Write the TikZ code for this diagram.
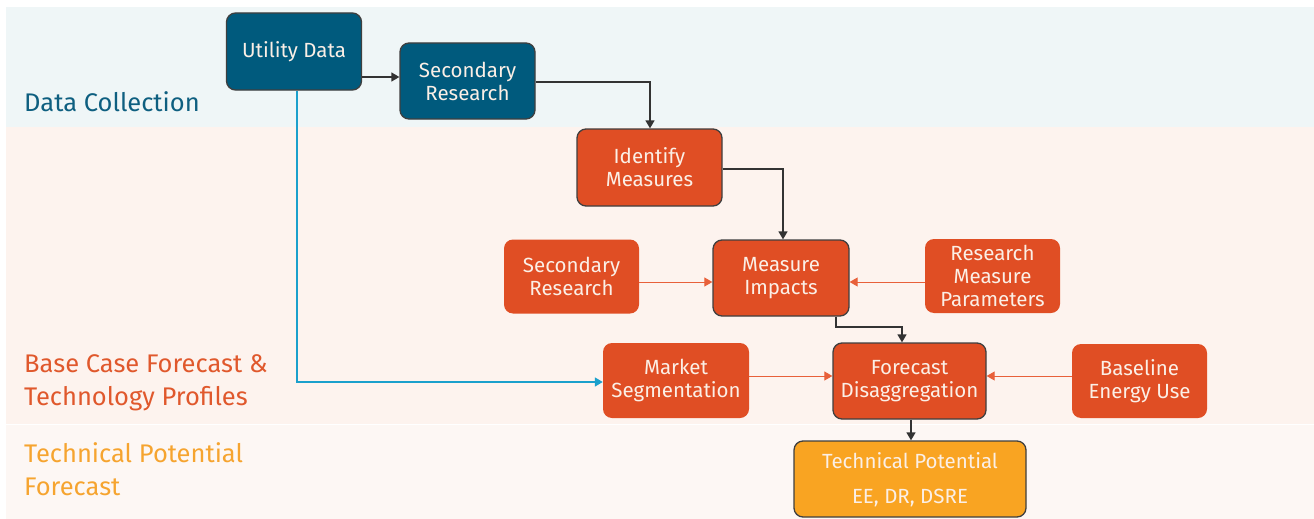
\documentclass[tikz,border=0pt]{standalone}
\usepackage{fontspec}
\setmainfont{Fira Sans}[Scale=1]
\usetikzlibrary{arrows.meta,positioning}
\definecolor{bandA}{HTML}{EFF6F7}
\definecolor{bandB}{HTML}{FDF3EE}
\definecolor{bandC}{HTML}{FDF7F4}
\definecolor{dblue}{HTML}{005A7D}
\definecolor{dred}{HTML}{E04E24}
\definecolor{dorange}{HTML}{F9A422}
\definecolor{lblue}{HTML}{0E5F80}
\definecolor{lred}{HTML}{E0582C}
\definecolor{lorange}{HTML}{F6A42F}
\definecolor{cblue}{HTML}{1BA0CC}
\definecolor{cred}{HTML}{E8603A}
\definecolor{cdark}{HTML}{333333}
\definecolor{bord}{HTML}{3F3F3F}
\definecolor{txt}{HTML}{FBEFE6}
\tikzset{
  boxbase/.style={rounded corners=9pt, align=center, inner sep=0pt, text=txt,
    font=\fontsize{20.5}{23}\selectfont},
  bluebox/.style={boxbase, fill=dblue, draw=bord, line width=1.3pt},
  redbox/.style={boxbase, fill=dred, draw=bord, line width=1.3pt},
  sidebox/.style={boxbase, fill=dred},
  orbox/.style={boxbase, fill=dorange, draw=bord, line width=1.3pt},
  darkarrow/.style={draw=cdark, line width=1.5pt, -{Triangle[length=8pt,width=9pt]}},
  redarrow/.style={draw=cred, line width=1pt, -{Triangle[length=8pt,width=9pt]}},
  bluearrow/.style={draw=cblue, line width=1.5pt, -{Triangle[length=8pt,width=9pt]}},
  bandlabel/.style={anchor=west, align=left, inner sep=0pt, font=\fontsize{25.5}{33}\selectfont},
}
\begin{document}
\begin{tikzpicture}[x=1pt,y=-1pt]
\useasboundingbox (0,0) rectangle (1314,519);
\fill[white] (0,0) rectangle (1314,519);
\fill[bandA] (6,7) rectangle (1314,127);
\fill[bandB] (6,127) rectangle (1314,423.5);
\fill[bandC] (6,424.5) rectangle (1314,519);

\node[bandlabel, text=lblue] (lab1) at (24,102) {Data Collection};
\node[bandlabel, text=lred] (lab2) at (24,382.5) {Base Case Forecast \&\\Technology Profiles};
\node[bandlabel, text=lorange] (lab3) at (24,469.5) {Technical Potential\\Forecast};

\node[bluebox, minimum width=135pt, minimum height=77pt] (ud) at (294,51.5) {Utility Data};
\node[bluebox, minimum width=135pt, minimum height=76pt] (sr1) at (467.5,81) {Secondary\\Research};
\node[redbox, minimum width=145pt, minimum height=77pt] (im) at (649.5,167.5) {Identify\\Measures};
\node[sidebox, minimum width=135pt, minimum height=74pt] (sr2) at (571.5,276.5) {Secondary\\Research};
\node[redbox, minimum width=136pt, minimum height=76pt] (mi) at (781,278) {Measure\\Impacts};
\node[sidebox, minimum width=135pt, minimum height=74pt] (rmp) at (992.5,276) {Research\\Measure\\Parameters};
\node[sidebox, minimum width=146pt, minimum height=75pt] (ms) at (676,380.5) {Market\\Segmentation};
\node[redbox, minimum width=153pt, minimum height=76pt] (fd) at (909.5,381) {Forecast\\Disaggregation};
\node[sidebox, minimum width=135pt, minimum height=74pt] (be) at (1139.5,381) {Baseline\\Energy Use};
\node[orbox, minimum width=232pt, minimum height=76pt, font=\fontsize{20.5}{35}\selectfont] (tp) at (910,479) {\strut Technical Potential\\EE, DR, DSRE\strut};

\draw[darkarrow] (ud.east |- 0,77) -- (sr1.west |- 0,77);
\draw[darkarrow] (sr1.east |- 0,82) -| (im.north -| 650,0);
\draw[darkarrow] (im.east |- 0,169) -| (mi.north -| 783,0);
\draw[redarrow] (sr2.east |- 0,282) -- (mi.west |- 0,282);
\draw[redarrow] (rmp.west |- 0,282) -- (mi.east |- 0,282);
\draw[darkarrow] (mi.south -| 836,0) |- (869,327) -| (fd.north -| 902,0);
\draw[bluearrow] (ud.south -| 297,0) |- (ms.west |- 0,382);
\draw[redarrow] (ms.east |- 0,376) -- (fd.west |- 0,376);
\draw[redarrow] (be.west |- 0,376) -- (fd.east |- 0,376);
\draw[darkarrow] (fd.south -| 911,0) -- (tp.north -| 911,0);
\end{tikzpicture}
\end{document}
